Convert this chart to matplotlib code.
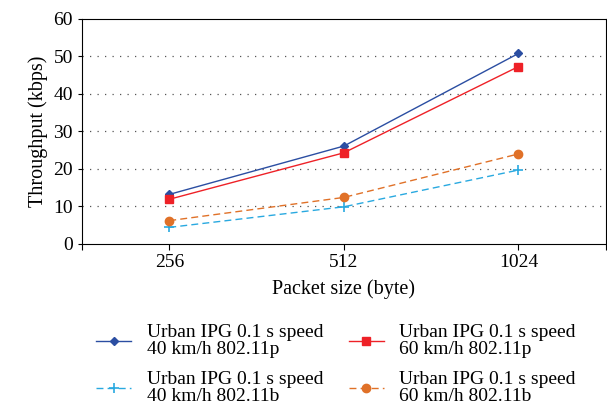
import matplotlib.pyplot as plt

plt.rcParams['font.family'] = ['Liberation Serif', 'DejaVu Serif']

sizes = ['256', '512', '1024']
p40 = [13.2, 26.1, 50.8]
p60 = [11.9, 24.3, 47.3]
b40 = [4.4, 9.9, 19.7]
b60 = [6.2, 12.4, 24.0]
labels = ['Urban IPG 0.1 s speed\n40 km/h 802.11p',
          'Urban IPG 0.1 s speed\n60 km/h 802.11p',
          'Urban IPG 0.1 s speed\n40 km/h 802.11b',
          'Urban IPG 0.1 s speed\n60 km/h 802.11b']

fig = plt.figure(figsize=(6.07, 4.12), dpi=100)
ax = fig.add_axes([0.135, 0.408, 0.863, 0.546])
x = range(len(sizes))

l1, = ax.plot(x, p40, '-', color='#2b4ea2', marker='D', ms=4, lw=1)
l2, = ax.plot(x, p60, '-', color='#ee2127', marker='s', ms=6, lw=1)
l3, = ax.plot(x, b40, '--', color='#29a9e0', marker='+', ms=7, mew=1.2, lw=1, dashes=(5, 3))
l4, = ax.plot(x, b60, '--', color='#e07128', marker='o', ms=6, lw=1, dashes=(5, 3))

ax.set_xlim(-0.5, 2.5)
ax.set_ylim(0, 60)
ax.set_xticks([-0.5, 0, 1, 2, 2.5])
ax.set_xticklabels(['', '256', '512', '1024', ''])
ax.set_yticks(range(0, 61, 10))
ax.tick_params(labelsize=14, direction='out', length=4)
ax.tick_params(axis='y', length=3)
for yv in range(10, 60, 10):
    ax.axhline(yv, color='#555555', lw=0.9, ls=(0, (1, 5)), zorder=0)
ax.set_xlabel('Packet size (byte)', fontsize=14.5, labelpad=6)
ax.set_ylabel('Throughput (kbps)', fontsize=14.5, labelpad=4)

leg = fig.legend([l1, l3, l2, l4], [labels[0], labels[2], labels[1], labels[3]],
                 loc='lower left', bbox_to_anchor=(0.13, -0.025),
                 ncol=2, frameon=False, fontsize=14, columnspacing=1.3, handlelength=1.8,
                 labelspacing=0.7, handletextpad=0.8)
for t in leg.get_texts():
    t.set_linespacing(0.95)

plt.savefig('out.png', dpi=100)
